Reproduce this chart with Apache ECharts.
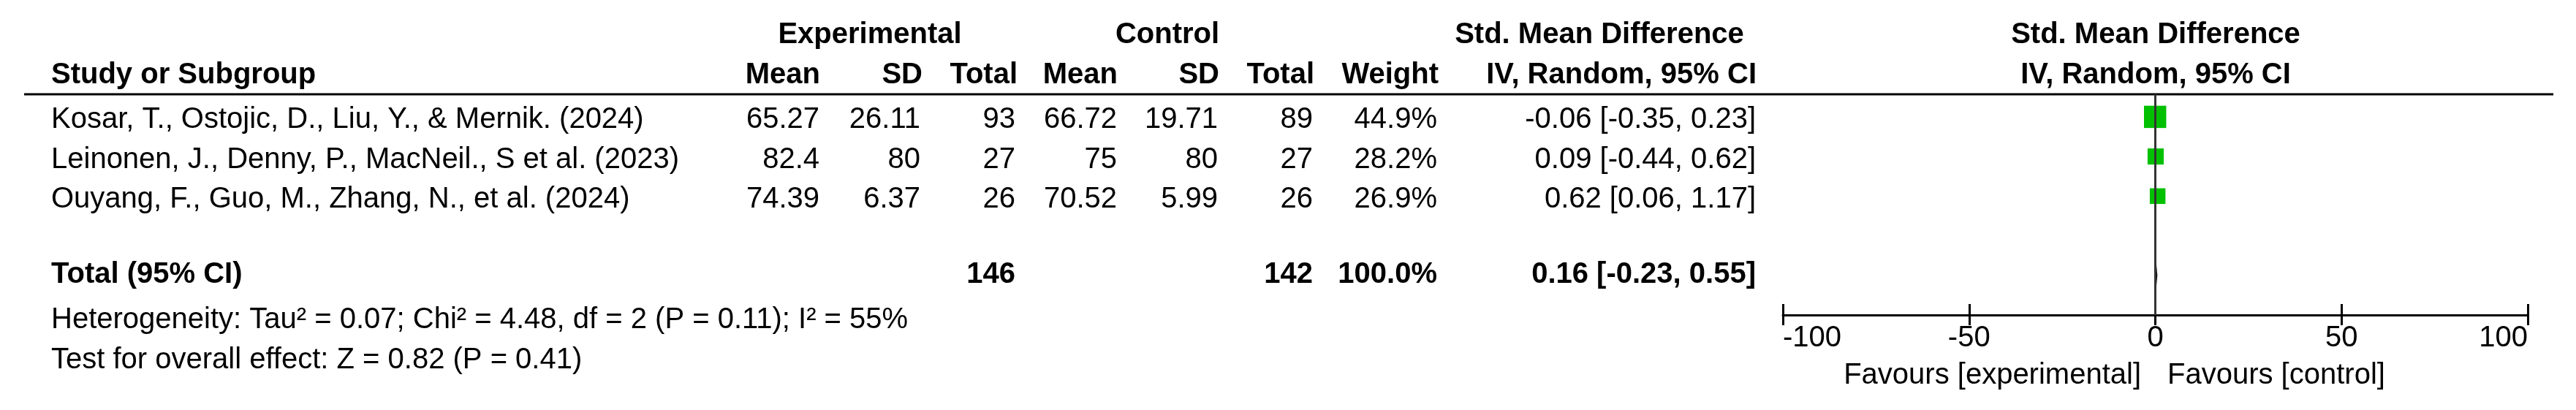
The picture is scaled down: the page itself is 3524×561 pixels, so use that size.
<!DOCTYPE html>
<html>
<head>
<meta charset="utf-8">
<script src="https://cdn.jsdelivr.net/npm/echarts@6/dist/echarts.min.js"></script>
<style>
  html, body { margin: 0; padding: 0; background: #fff; }
  #forest { width: 3524px; height: 561px; }
</style>
</head>
<body>
<div id="forest"></div>
<script>
// study data
var studies = [
    'Kosar, T., Ostojic, D., Liu, Y., & Mernik. (2024)',
    'Leinonen, J., Denny, P., MacNeil., S et al. (2023)',
    'Ouyang, F., Guo, M., Zhang, N., et al. (2024)'
];
var expMean = [65.27, 82.4, 74.39];
var expSD = [26.11, 80, 6.37];
var expTotal = [93, 27, 26];
var ctrlMean = [66.72, 75, 70.52];
var ctrlSD = [19.71, 80, 5.99];
var ctrlTotal = [89, 27, 26];
var weights = [44.9, 28.2, 26.9];
var smd = [-0.06, 0.09, 0.62];
var ciLow = [-0.35, -0.44, 0.06];
var ciHigh = [0.23, 0.62, 1.17];

// pooled result
var totalExp = 146;
var totalCtrl = 142;
var totalWeight = 100.0;
var totalSmd = 0.16;
var totalLow = -0.23;
var totalHigh = 0.55;
var totalRow = 4;

var xTicks = [-100, -50, 0, 50, 100];
var heterogeneity = 'Heterogeneity: Tau\u00b2 = 0.07; Chi\u00b2 = 4.48, df = 2 (P = 0.11); I\u00b2 = 55%';
var overallEffect = 'Test for overall effect: Z = 0.82 (P = 0.41)';

var FONT = '"Liberation Sans", Arial, sans-serif';

function txt(s, x, y, align, bold) {
    return {
        type: 'text',
        x: x,
        y: y,
        silent: true,
        style: {
            text: s,
            font: (bold ? 'bold ' : '') + '40px ' + FONT,
            fill: '#000',
            align: align,
            verticalAlign: 'middle'
        }
    };
}

function forestPlot() {
    var g = [];
    // header rows
    g.push(txt('Experimental', 1190, 48, 'center', true));
    g.push(txt('Control', 1597, 48, 'center', true));
    g.push(txt('Std. Mean Difference', 2188, 48, 'center', true));
    g.push(txt('Std. Mean Difference', 2949, 48, 'center', true));
    g.push(txt('Study or Subgroup', 70, 103, 'left', true));
    g.push(txt('Mean', 1122, 103, 'right', true));
    g.push(txt('SD', 1262, 103, 'right', true));
    g.push(txt('Total', 1392, 103, 'right', true));
    g.push(txt('Mean', 1529, 103, 'right', true));
    g.push(txt('SD', 1668, 103, 'right', true));
    g.push(txt('Total', 1798, 103, 'right', true));
    g.push(txt('Weight', 1968, 103, 'right', true));
    g.push(txt('IV, Random, 95% CI', 2403, 103, 'right', true));
    g.push(txt('IV, Random, 95% CI', 2949, 103, 'center', true));
    g.push({
        type: 'line',
        silent: true,
        shape: {x1: 33, y1: 129, x2: 3493, y2: 129},
        style: {stroke: '#000', lineWidth: 3}
    });

    // study rows
    var rowY = [164, 219, 273];
    for (var i = 0; i < studies.length; i++) {
        var y = rowY[i];
        g.push(txt(studies[i], 70, y, 'left'));
        g.push(txt(String(expMean[i]), 1121, y, 'right'));
        g.push(txt(String(expSD[i]), 1259, y, 'right'));
        g.push(txt(String(expTotal[i]), 1389, y, 'right'));
        g.push(txt(String(ctrlMean[i]), 1528, y, 'right'));
        g.push(txt(String(ctrlSD[i]), 1666, y, 'right'));
        g.push(txt(String(ctrlTotal[i]), 1796, y, 'right'));
        g.push(txt(weights[i].toFixed(1) + '%', 1966, y, 'right'));
        g.push(txt(smd[i].toFixed(2) + ' [' + ciLow[i].toFixed(2) + ', ' + ciHigh[i].toFixed(2) + ']', 2402, y, 'right'));
    }

    // total row
    g.push(txt('Total (95% CI)', 70, 376, 'left', true));
    g.push(txt(String(totalExp), 1389, 376, 'right', true));
    g.push(txt(String(totalCtrl), 1796, 376, 'right', true));
    g.push(txt(totalWeight.toFixed(1) + '%', 1966, 376, 'right', true));
    g.push(txt(totalSmd.toFixed(2) + ' [' + totalLow.toFixed(2) + ', ' + totalHigh.toFixed(2) + ']', 2402, 376, 'right', true));
    g.push(txt(heterogeneity, 70, 438, 'left'));
    g.push(txt(overallEffect, 70, 493, 'left'));

    // favours labels
    g.push(txt('Favours [experimental]', 2929, 514, 'right'));
    g.push(txt('Favours [control]', 2965, 514, 'left'));

    var squareData = smd.map(function (v, i) { return [v, i, weights[i]]; });
    var ciData = smd.map(function (v, i) { return [ciLow[i], ciHigh[i], i]; });

    var plotGrid = {left: 2439, right: 66, top: 129, bottom: 130};

    var axisCommon = {
        type: 'value',
        min: xTicks[0],
        max: xTicks[xTicks.length - 1],
        interval: 50,
        position: 'bottom',
        splitLine: {show: false}
    };

    forestOption = {
        animation: false,
        backgroundColor: '#fff',
        textStyle: {fontFamily: FONT},
        grid: [plotGrid, plotGrid],
        xAxis: [
            Object.assign({}, axisCommon, {
                gridIndex: 0,
                axisLine: {show: true, onZero: false, lineStyle: {color: '#000', width: 3}},
                axisTick: {show: true, inside: false, length: 14, lineStyle: {color: '#000', width: 3}},
                axisLabel: {
                    show: true,
                    margin: 12,
                    fontSize: 40,
                    color: '#000',
                    fontFamily: FONT,
                    alignMinLabel: 'left',
                    alignMaxLabel: 'right'
                }
            }),
            Object.assign({}, axisCommon, {
                // upward half of the tick marks
                gridIndex: 1,
                axisLine: {show: false, onZero: false},
                axisTick: {show: true, inside: true, length: 15, lineStyle: {color: '#000', width: 3}},
                axisLabel: {show: false}
            })
        ],
        yAxis: [
            {gridIndex: 0, type: 'value', inverse: true, min: -0.57, max: 5, show: false},
            {gridIndex: 1, type: 'value', inverse: true, min: -0.57, max: 5, show: false}
        ],
        graphic: g,
        series: [
            {
                // line of no effect
                type: 'line',
                data: [],
                z: 1,
                markLine: {
                    silent: true,
                    symbol: 'none',
                    label: {show: false},
                    lineStyle: {color: '#333', width: 3, type: 'solid'},
                    data: [{xAxis: 0}]
                }
            },
            {
                // confidence intervals
                type: 'custom',
                z: 2,
                data: ciData,
                renderItem: function (params, api) {
                    var a = api.coord([api.value(0), api.value(2)]);
                    var b = api.coord([api.value(1), api.value(2)]);
                    return {
                        type: 'line',
                        shape: {x1: a[0], y1: a[1], x2: b[0], y2: b[1]},
                        style: {stroke: '#000', lineWidth: 2}
                    };
                }
            },
            {
                type: 'scatter',
                z: 3,
                symbol: 'rect',
                symbolSize: function (val) { return 8 + val[2] * 0.5; },
                itemStyle: {color: '#00c000', opacity: 1},
                data: squareData
            },
            {
                // pooled diamond
                type: 'custom',
                z: 3,
                data: [[totalLow, totalSmd, totalHigh, totalRow]],
                renderItem: function (params, api) {
                    var l = api.coord([api.value(0), api.value(3)]);
                    var m = api.coord([api.value(1), api.value(3)]);
                    var r = api.coord([api.value(2), api.value(3)]);
                    var h = 22;
                    return {
                        type: 'polygon',
                        shape: {points: [[l[0], l[1]], [m[0], m[1] - h], [r[0], r[1]], [m[0], m[1] + h]]},
                        style: {fill: '#000'}
                    };
                }
            }
        ]
    };

    var forest = echarts.init(document.getElementById('forest'));
    forest.setOption(forestOption);
}

forestPlot();
</script>
</body>
</html>
